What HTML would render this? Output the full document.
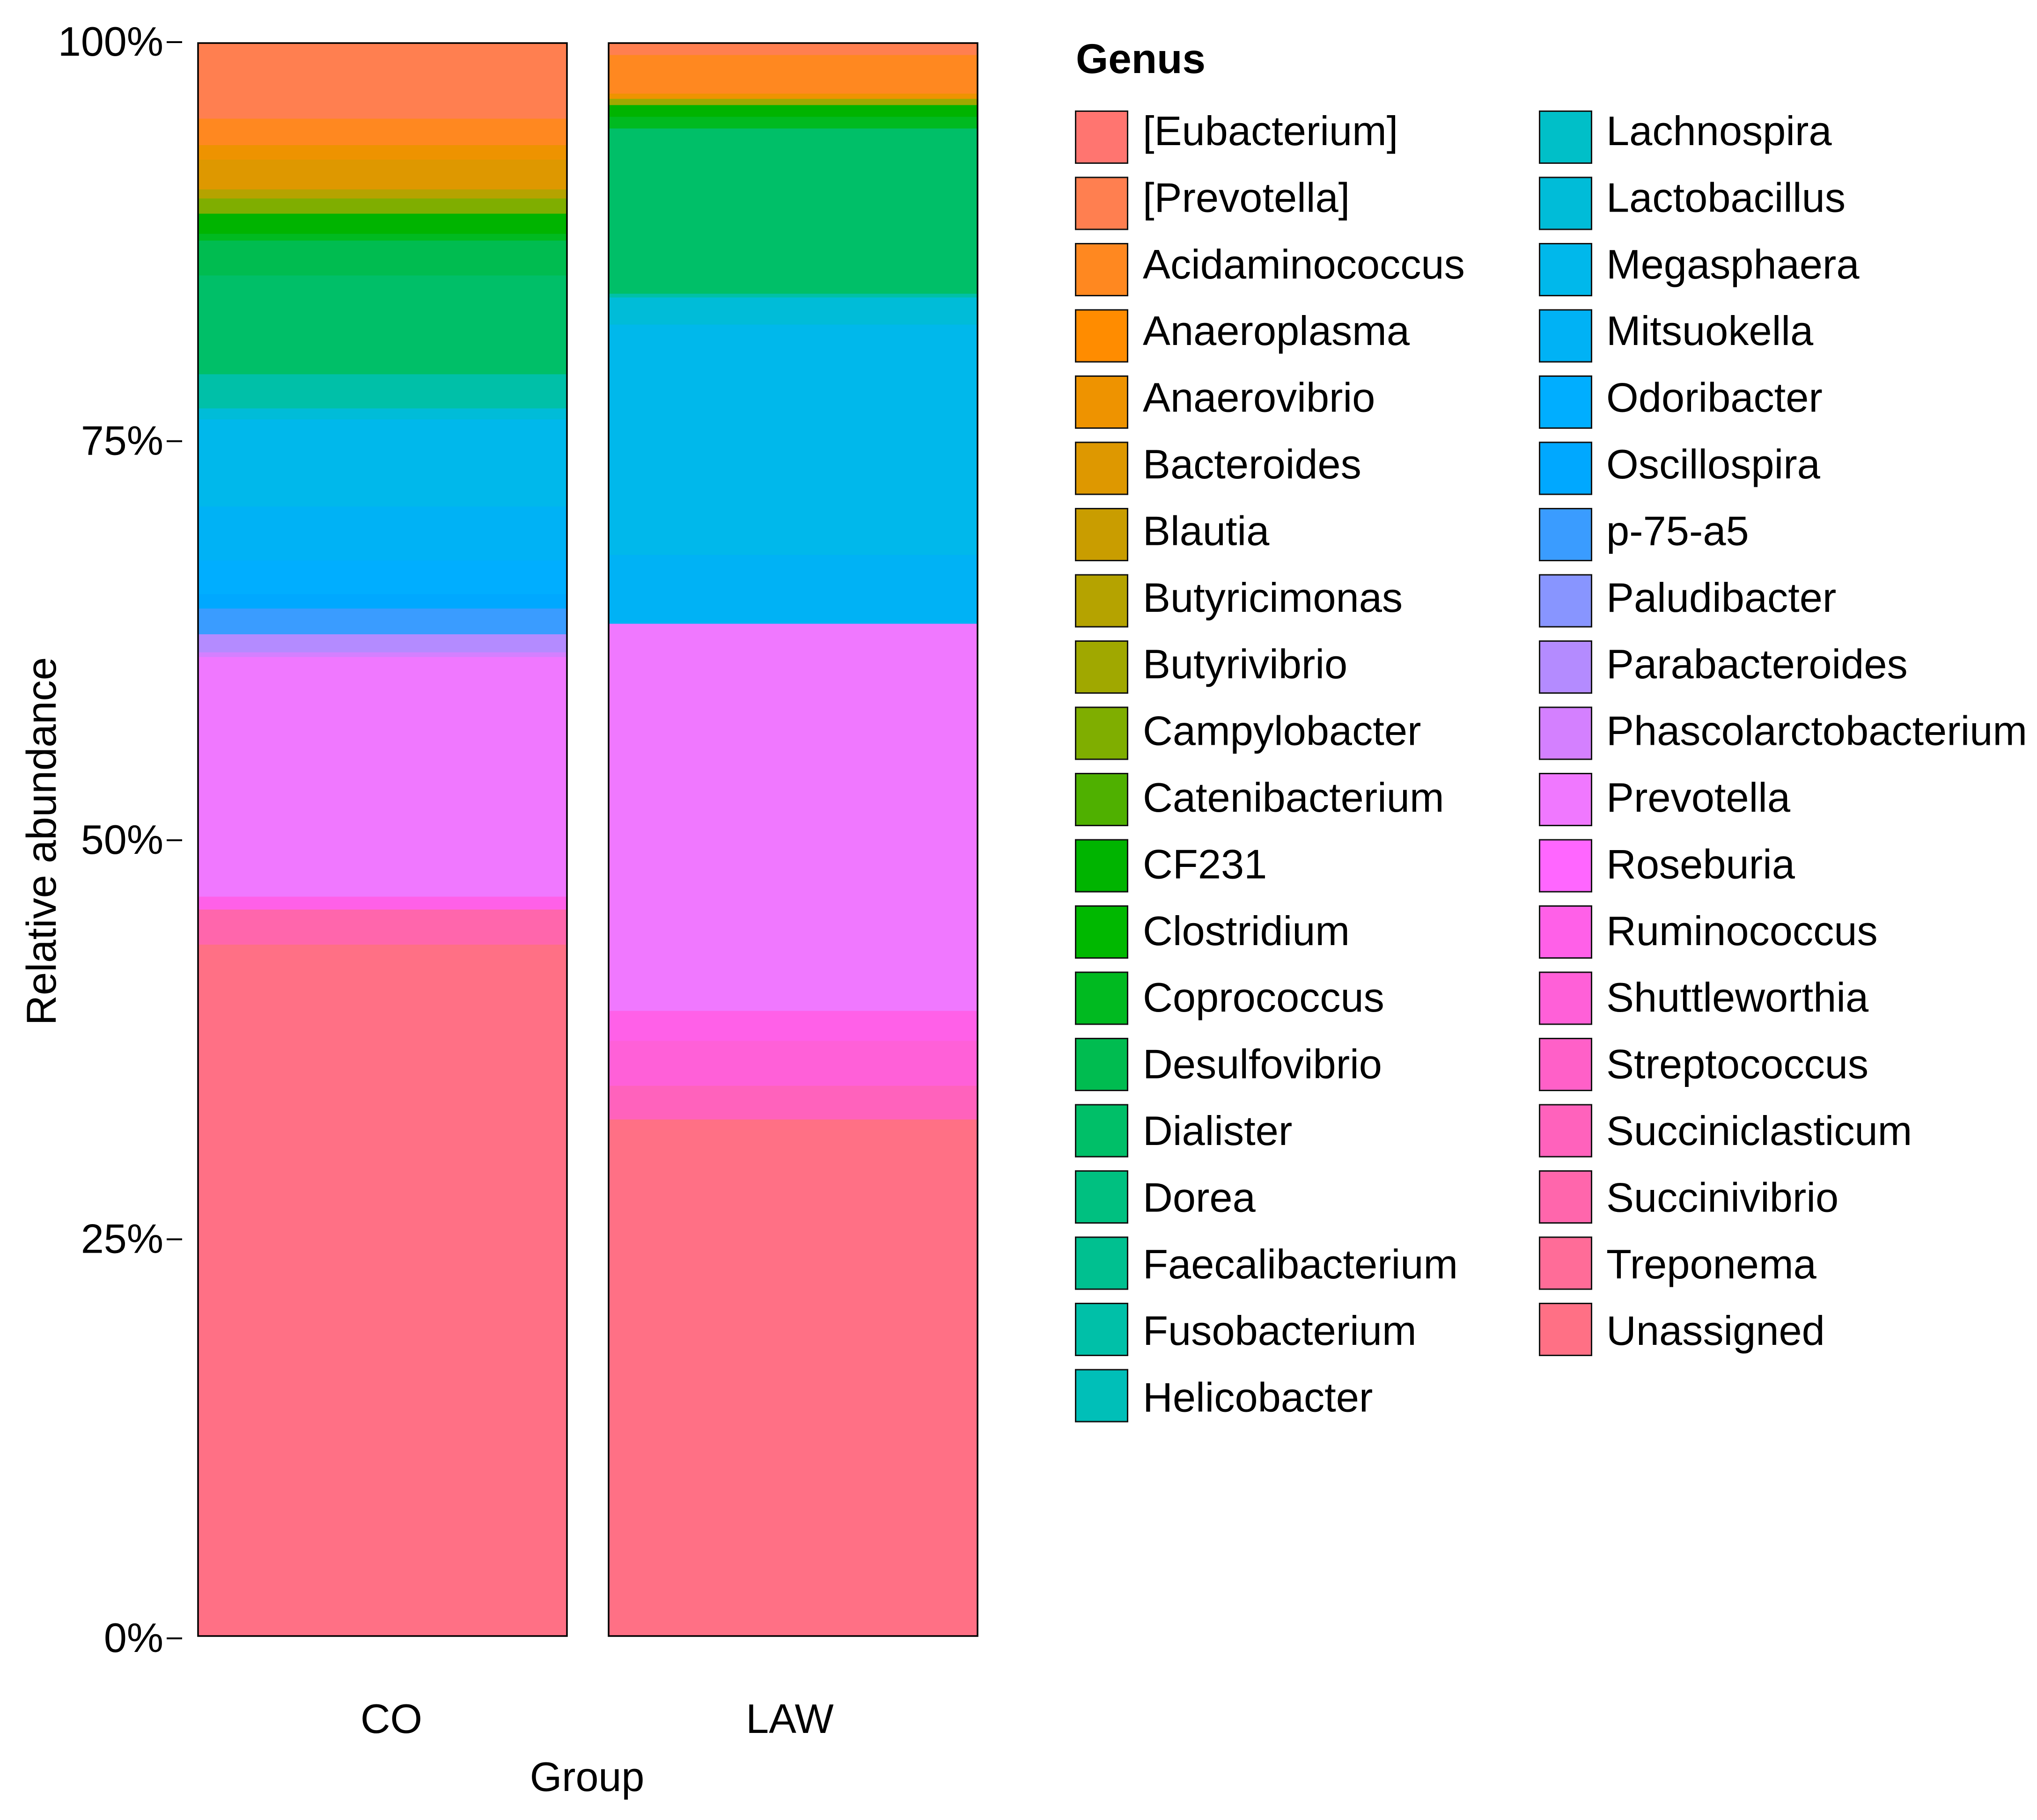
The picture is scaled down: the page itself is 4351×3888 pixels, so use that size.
<!DOCTYPE html>
<html lang="en">
<head>
<meta charset="utf-8">
<title>Relative abundance by genus</title>
<style>
html,body{margin:0;padding:0;background:#fff;}
svg{display:block;}
text{font-family:"Liberation Sans",Arial,sans-serif;fill:#000;font-size:88px;}
</style>
</head>
<body>
<svg id="chart" xmlns="http://www.w3.org/2000/svg" width="4351" height="3888" viewBox="0 0 4351 3888">
  <rect x="0" y="0" width="4351" height="3888" fill="#ffffff"/>
  <g id="bars"></g>
  <g id="y-axis"></g>
  <g id="x-axis"></g>
  <text transform="translate(119,1797) rotate(-90)" text-anchor="middle" style="font-size:89px">Relative abundance</text>
  <text x="1254" y="3826" text-anchor="middle">Group</text>
  <g id="legend">
    <text x="2298" y="156" style="font-weight:700;font-size:89px">Genus</text>
  </g>
</svg>
<script>
var groups = ["CO", "LAW"];
var genera = ["[Eubacterium]","[Prevotella]","Acidaminococcus","Anaeroplasma","Anaerovibrio","Bacteroides","Blautia","Butyricimonas","Butyrivibrio","Campylobacter","Catenibacterium","CF231","Clostridium","Coprococcus","Desulfovibrio","Dialister","Dorea","Faecalibacterium","Fusobacterium","Helicobacter","Lachnospira","Lactobacillus","Megasphaera","Mitsuokella","Odoribacter","Oscillospira","p-75-a5","Paludibacter","Parabacteroides","Phascolarctobacterium","Prevotella","Roseburia","Ruminococcus","Shuttleworthia","Streptococcus","Succiniclasticum","Succinivibrio","Treponema","Unassigned"];
var coValues = [0,4.75,1.66,0,0.91,1.87,0,0.56,0,0.96,0,1.26,0,0.43,2.19,6.20,0,0,2.15,0,0,0.68,5.47,3.38,2.12,0.91,1.62,0,1.12,0.30,15.04,0,0.82,0,0,0,2.20,0,43.43];
var lawValues = [0,0.75,2.42,0,0.32,0,0,0,0.41,0,0,0.73,0,0.73,0,10.37,0,0,0.24,0,0,1.70,14.47,4.31,0,0,0,0,0,0,24.30,0,1.88,2.82,0,2.12,0,0,32.41];
var tickValues = [0, 25, 50, 75, 100];
var tickLabels = ["0%", "25%", "50%", "75%", "100%"];
var palette = ["#FF7570","#FF7F50","#FF8820","#FF8C00","#EE9300","#DE9800","#C99D00","#B5A300","#A0A800","#7FAE00","#4FB000","#00B400","#00B800","#00BA20","#00BC50","#00BF68","#00C080","#00C090","#00C0A8","#00BFB8","#00BFC8","#00BCD8","#00B8EB","#00B2F5","#00AEFF","#00A8FF","#3A9CFF","#8895FF","#B48BFF","#D480FF","#F078FF","#FF66FF","#FF60E8","#FF60D8","#FF60C8","#FF62BC","#FF66AC","#FF6C98","#FF7085"];

var NS = "http://www.w3.org/2000/svg";
function make(tag, attrs, parent) {
  var el = document.createElementNS(NS, tag);
  for (var k in attrs) el.setAttribute(k, attrs[k]);
  parent.appendChild(el);
  return el;
}
function slug(s) { return s.toLowerCase().replace(/[^a-z0-9]+/g, "-").replace(/^-|-$/g, ""); }

/* axis functions */
var barLefts = [423, 1300];
var barWidth = 788;
function barY(v) { return 92 + (100 - v) * 34.03; }
function tickY(v) { return 3500 - v * 34.1; }

/* stacked bars */
var barsLayer = document.getElementById("bars");
[coValues, lawValues].forEach(function (values, g) {
  var group = make("g", {}, barsLayer);
  
  
  var cum = 100;
  values.forEach(function (val, i) {
    if (val <= 0) return;
    var y0 = barY(cum);
    var y1 = barY(cum - val);
    var seg = make("rect", {x: barLefts[g], y: y0, width: barWidth, height: y1 - y0, fill: palette[i], "shape-rendering": "crispEdges"}, group);
    
    
    cum -= val;
  });
  var frame = make("rect", {x: barLefts[g], y: barY(100), width: barWidth, height: barY(0) - barY(100), fill: "none", stroke: "#000", "stroke-width": 3.5}, group);
  
  
});

/* y axis */
var yAxis = document.getElementById("y-axis");
tickValues.forEach(function (v, i) {
  var y = tickY(v);
  var tick = make("line", {x1: 356, x2: 389, y1: y, y2: y, stroke: "#000", "stroke-width": 4}, yAxis);
  
  
  var label = make("text", {x: 349, y: y + 29, "text-anchor": "end"}, yAxis);
  
  
  label.textContent = tickLabels[i];
});

/* x axis */
var xAxis = document.getElementById("x-axis");
var xLabelCenters = [836, 1687];
groups.forEach(function (name, i) {
  var label = make("text", {x: xLabelCenters[i], y: 3702, "text-anchor": "middle"}, xAxis);
  
  
  label.textContent = name;
});

/* legend */
var legend = document.getElementById("legend");
var rowsPerCol = 20;
genera.forEach(function (name, i) {
  var col = i < rowsPerCol ? 0 : 1;
  var row = i < rowsPerCol ? i : i - rowsPerCol;
  var keyX = col === 0 ? 2296 : 3287;
  var textX = col === 0 ? 2441 : 3431;
  var keyY = 236 + row * 141.5;
  var baseY = 310 + row * 142.4;
  var entry = make("g", {}, legend);
  
  
  var key = make("rect", {x: keyX + 1.5, y: keyY + 1.5, width: 111, height: 111, fill: palette[i], stroke: "#111", "stroke-width": 3}, entry);
  
  
  var label = make("text", {x: textX, y: baseY, style: "font-size:88.4px"}, entry);
  
  
  label.textContent = name;
});
</script>
</body>
</html>
